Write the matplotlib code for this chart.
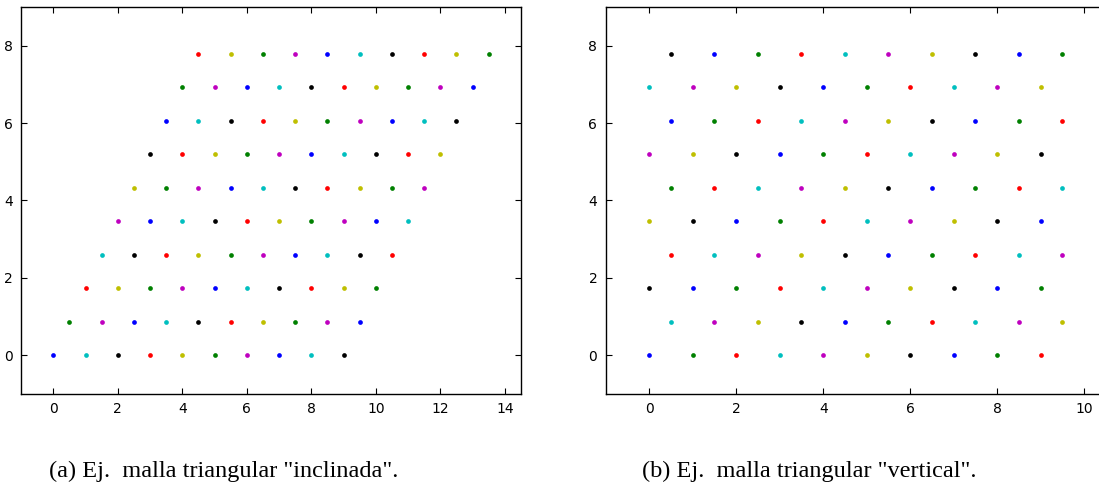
import matplotlib
matplotlib.use("Agg")
import matplotlib.pyplot as plt

# paleta clásica de matplotlib (orden de ciclo)
colores = ['b', 'g', 'r', 'c', 'm', 'y', 'k']

# columnas de la malla y alturas de cada fila
columnas = [0, 1, 2, 3, 4, 5, 6, 7, 8, 9]
filas_y = [0.0, 0.866, 1.732, 2.598, 3.464, 4.330, 5.196, 6.062, 6.928, 7.794]

# desplazamiento horizontal de cada fila
despl_inclinada = [0.0, 0.5, 1.0, 1.5, 2.0, 2.5, 3.0, 3.5, 4.0, 4.5]
despl_vertical = [0.0, 0.5, 0.0, 0.5, 0.0, 0.5, 0.0, 0.5, 0.0, 0.5]

titulo_a = '(a) Ej.  malla triangular "inclinada".'
titulo_b = '(b) Ej.  malla triangular "vertical".'

plt.rcParams['font.family'] = 'DejaVu Sans'

fig = plt.figure(figsize=(10.99, 4.91), dpi=100, facecolor='white')
ax1 = fig.add_axes([21 / 1099, 1 - 394 / 491, 500 / 1099, 387 / 491])
ax2 = fig.add_axes([605.7 / 1099, 1 - 394 / 491, 500.3 / 1099, 387 / 491])


def estilo(ax, xlim):
    ax.set_xlim(*xlim)
    ax.set_ylim(-1, 9)
    ax.tick_params(direction='in', top=True, right=True, length=4,
                   width=0.8, labelsize=10, pad=6)
    for s in ax.spines.values():
        s.set_linewidth(1.0)
        s.set_color('black')


# (a) malla inclinada: se recorre columna por columna
for i in columnas:
    for j, y in enumerate(filas_y):
        n = i * len(filas_y) + j
        ax1.plot(columnas[i] + despl_inclinada[j], y, 'o',
                 color=colores[n % 7], markersize=3.4, markeredgewidth=0)
estilo(ax1, (-1, 14.5))
ax1.set_xticks([0, 2, 4, 6, 8, 10, 12, 14])
ax1.set_yticks([0, 2, 4, 6, 8])

# (b) malla vertical: se recorre fila por fila
for j, y in enumerate(filas_y):
    for i in columnas:
        n = j * len(columnas) + i
        ax2.plot(columnas[i] + despl_vertical[j], y, 'o',
                 color=colores[n % 7], markersize=3.4, markeredgewidth=0)
estilo(ax2, (-1, 10.5))
ax2.set_xticks([0, 2, 4, 6, 8, 10])
ax2.set_yticks([0, 2, 4, 6, 8])

fig.text(49 / 1099, 1 - 477.5 / 491, titulo_a, family='Liberation Serif',
         fontsize=17.5, ha='left', va='baseline')
fig.text(641.5 / 1099, 1 - 477.5 / 491, titulo_b, family='Liberation Serif',
         fontsize=17.5, ha='left', va='baseline')

fig.savefig('out.png', dpi=100, facecolor='white')
